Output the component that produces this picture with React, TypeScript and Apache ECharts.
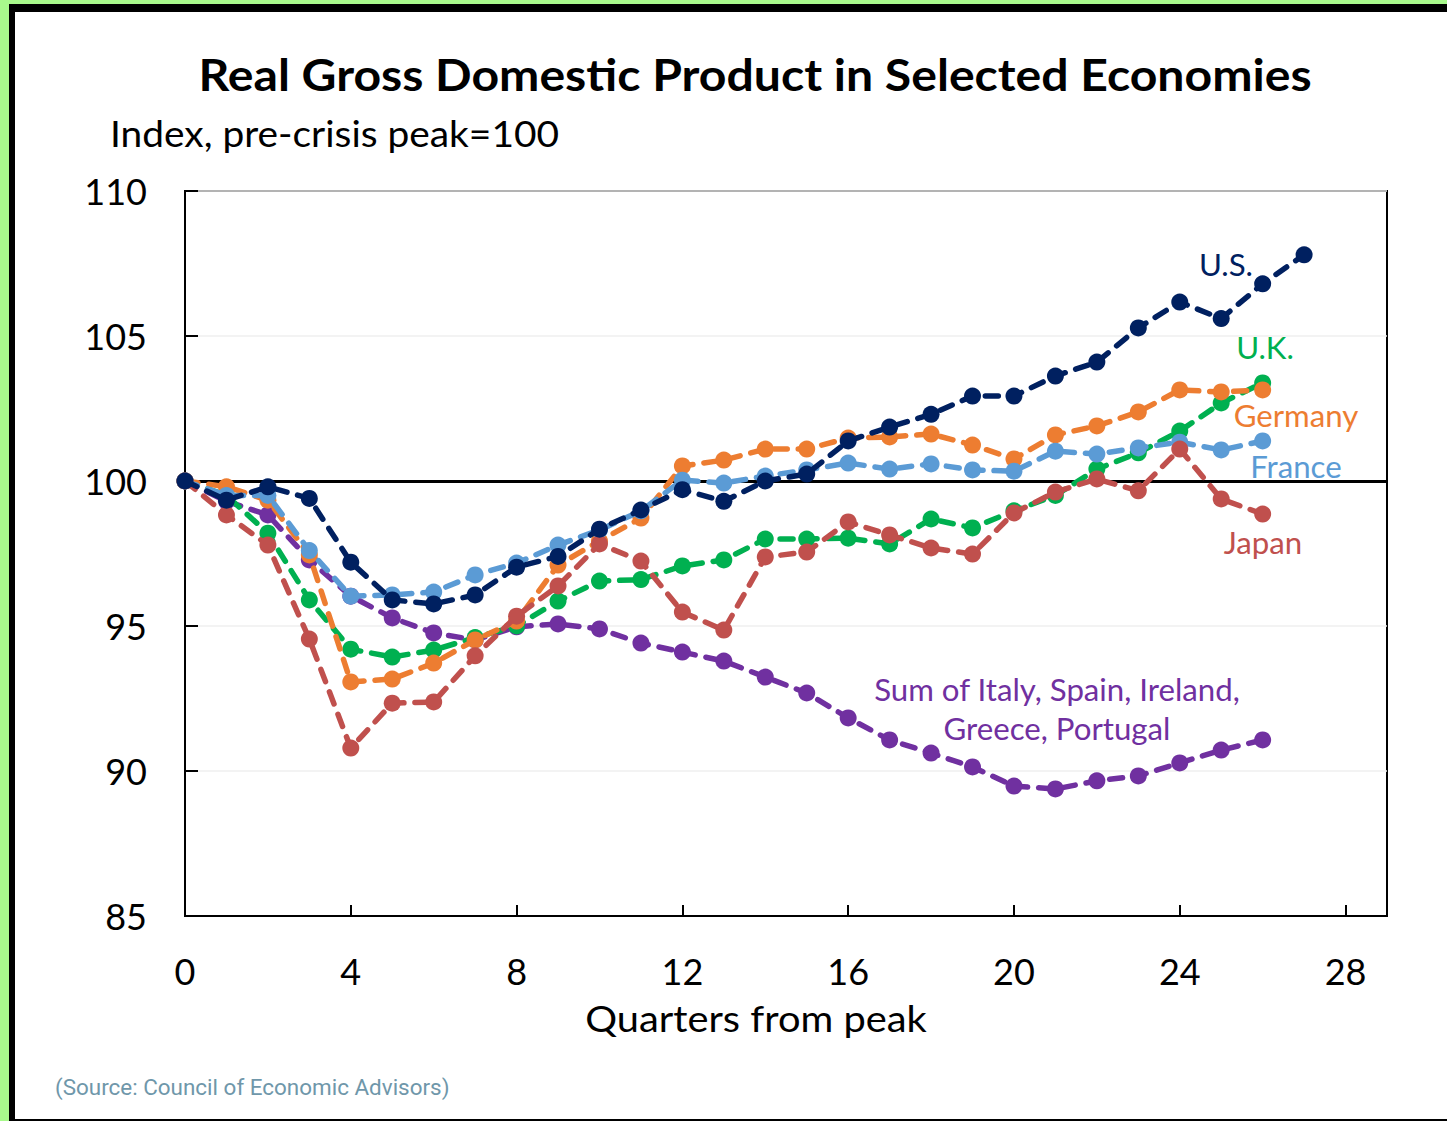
import React, { useEffect, useRef } from "react";
import * as echarts from "echarts";

const quarters = [0, 1, 2, 3, 4, 5, 6, 7, 8, 9, 10, 11, 12, 13, 14, 15, 16, 17, 18, 19, 20, 21, 22, 23, 24, 25, 26, 27];
const xTicks = [0, 4, 8, 12, 16, 20, 24, 28];
const yTicks = [85, 90, 95, 100, 105, 110];

const usValues = [100, 99.34, 99.8, 99.4, 97.2, 95.9, 95.76, 96.07, 97.03, 97.4, 98.34, 99.0, 99.7, 99.3, 100.0, 100.24, 101.38, 101.86, 102.3, 102.93, 102.93, 103.62, 104.1, 105.28, 106.17, 105.6, 106.8, 107.8];
const ukValues = [100, 99.5, 98.2, 95.9, 94.2, 93.93, 94.17, 94.6, 95.0, 95.86, 96.55, 96.6, 97.07, 97.28, 98.0, 98.0, 98.03, 97.83, 98.69, 98.38, 98.97, 99.5, 100.41, 100.97, 101.72, 102.69, 103.38];
const germanyValues = [100, 99.8, 99.34, 97.45, 93.07, 93.17, 93.72, 94.52, 95.17, 97.1, 97.93, 98.72, 100.52, 100.72, 101.1, 101.1, 101.48, 101.52, 101.62, 101.24, 100.76, 101.59, 101.9, 102.38, 103.14, 103.07, 103.14];
const franceValues = [100, 99.5, 99.5, 97.6, 96.03, 96.07, 96.17, 96.76, 97.17, 97.79, 98.31, 98.97, 100.03, 99.93, 100.17, 100.38, 100.62, 100.41, 100.59, 100.38, 100.34, 101.03, 100.93, 101.14, 101.34, 101.07, 101.38];
const japanValues = [100, 98.83, 97.79, 94.55, 90.79, 92.34, 92.38, 93.97, 95.34, 96.38, 97.83, 97.24, 95.48, 94.86, 97.38, 97.55, 98.59, 98.14, 97.69, 97.48, 98.9, 99.62, 100.07, 99.66, 101.1, 99.38, 98.86];
const peripheryValues = [100, 99.3, 98.83, 97.28, 96.03, 95.28, 94.76, 94.52, 94.97, 95.07, 94.9, 94.41, 94.1, 93.79, 93.24, 92.69, 91.83, 91.07, 90.62, 90.14, 89.48, 89.38, 89.66, 89.83, 90.28, 90.72, 91.07];

const seriesNames = ["Sum of Italy, Spain, Ireland, Greece, Portugal", "U.K.", "Germany", "France", "Japan", "U.S."];
const seriesColors = ["#7030a0", "#00b050", "#ed7d31", "#5b9bd5", "#c0504d", "#002060"];
const seriesValues = [peripheryValues, ukValues, germanyValues, franceValues, japanValues, usValues];

const FONT = "Lato, 'Open Sans', sans-serif";

export default function App() {
  const ref = useRef<HTMLDivElement>(null);
  useEffect(() => {
    if (!ref.current) return;
    const chart = echarts.init(ref.current, null, { renderer: "svg" });
    const series: any[] = seriesValues.map((vals, si) => ({
      name: seriesNames[si],
      type: "line",
      data: vals.map((v, i) => [quarters[i], v]),
      symbol: "circle",
      symbolSize: 17,
      showSymbol: true,
      itemStyle: { color: seriesColors[si] },
      lineStyle: { color: seriesColors[si], width: 5.5, type: [13, 11], cap: "round" },
      z: 3 + si,
      ...(si === 0
        ? {
            markLine: {
              silent: true,
              symbol: "none",
              label: { show: false },
              lineStyle: { color: "#000", width: 2.8, type: "solid" },
              data: [{ yAxis: 100 }],
              z: 1,
            },
          }
        : {}),
    }));

    const labelStyle = (color: string) => ({ fontSize: 30, fontFamily: FONT, fill: color, align: "center", verticalAlign: "middle" });

    chart.setOption({
      animation: false,
      grid: { left: 185, top: 191, width: 1202, height: 725, show: true, borderColor: "#000", borderWidth: 2, backgroundColor: "transparent" },
      xAxis: {
        type: "value",
        min: 0,
        max: 29,
        interval: 4,
        axisLine: { show: true, lineStyle: { color: "#000", width: 2 } },
        axisTick: { show: true, inside: true, length: 11, lineStyle: { color: "#000", width: 2 } },
        axisLabel: {
          fontSize: 36,
          fontFamily: FONT,
          color: "#000",
          margin: 37,
          showMaxLabel: false,
          formatter: (v: number) => (xTicks.includes(v) ? String(v) : ""),
        },
        splitLine: { show: false },
      },
      yAxis: {
        type: "value",
        min: 85,
        max: 110,
        interval: 5,
        axisLine: { show: true, lineStyle: { color: "#000", width: 2 } },
        axisTick: { show: true, inside: true, length: 13, lineStyle: { color: "#000", width: 2 } },
        axisLabel: {
          fontSize: 36,
          fontFamily: FONT,
          color: "#000",
          margin: 38,
          formatter: (v: number) => (yTicks.includes(v) ? String(v) : ""),
        },
        splitLine: { show: true, lineStyle: { color: "#efefef", width: 1.5 } },
      },
      series,
      graphic: [
        { type: "text", x: 755, y: 75, scaleX: 1.12, style: { text: "Real Gross Domestic Product in Selected Economies", fontSize: 43, fontWeight: "bold", fontFamily: FONT, fill: "#000", align: "center", verticalAlign: "middle" } },
        { type: "text", x: 110, y: 133, scaleX: 1.08, style: { text: "Index, pre-crisis peak=100", fontSize: 36, fontFamily: FONT, fill: "#000", align: "left", verticalAlign: "middle" } },
        { type: "text", x: 756, y: 1018, scaleX: 1.076, style: { text: "Quarters from peak", fontSize: 37, fontFamily: FONT, fill: "#000", align: "center", verticalAlign: "middle" } },
        { type: "text", x: 1226, y: 265, scaleX: 1.04, style: { text: "U.S.", ...labelStyle("#002060") } },
        { type: "text", x: 1265, y: 348, scaleX: 1.04, style: { text: "U.K.", ...labelStyle("#00b050") } },
        { type: "text", x: 1296, y: 416, scaleX: 1.04, style: { text: "Germany", ...labelStyle("#ed7d31") } },
        { type: "text", x: 1296, y: 467, scaleX: 1.04, style: { text: "France", ...labelStyle("#5b9bd5") } },
        { type: "text", x: 1263, y: 543, scaleX: 1.04, style: { text: "Japan", ...labelStyle("#c0504d") } },
        { type: "text", x: 1057, y: 690, scaleX: 1.04, style: { text: "Sum of Italy, Spain, Ireland,", ...labelStyle("#7030a0") } },
        { type: "text", x: 1057, y: 729, scaleX: 1.04, style: { text: "Greece, Portugal", ...labelStyle("#7030a0") } },
        { type: "text", x: 55, y: 1087, scaleX: 1.02, style: { text: "(Source: Council of Economic Advisors)", fontSize: 22, fontFamily: "'Liberation Sans Narrow', 'Roboto', sans-serif", fill: "#6f97aa", align: "left", verticalAlign: "middle" } },
      ],
    });
    return () => chart.dispose();
  }, []);

  return (
    <div style={{ position: "absolute", left: 0, top: 0, width: 1447, height: 1121, background: "#a8f98c", overflow: "hidden" }}>
      <div style={{ position: "absolute", left: 9, top: 4, width: 1438, height: 1117, background: "#000" }} />
      <div style={{ position: "absolute", left: 15, top: 12, width: 1432, height: 1107, background: "#fff" }} />
      <div ref={ref} style={{ position: "absolute", left: 0, top: 0, width: 1447, height: 1121 }} />
    </div>
  );
}
